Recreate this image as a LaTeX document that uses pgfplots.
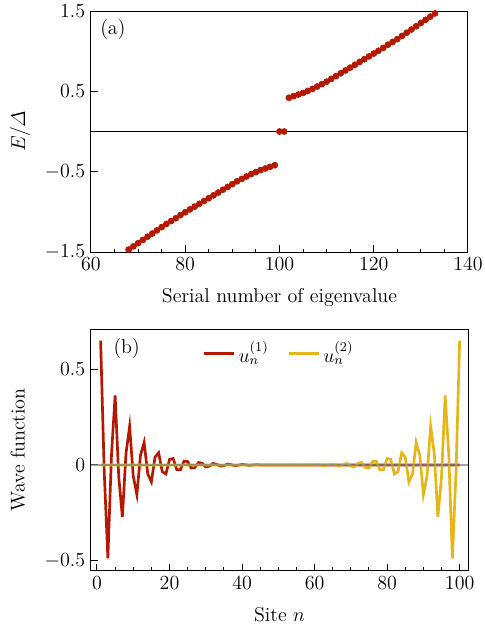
\documentclass[border=0pt]{standalone}
\usepackage{amsmath}
\usepackage{pgfplots}
\usepackage{pgfplotstable}
\pgfplotsset{compat=1.18}
\definecolor{cred}{RGB}{180,25,0}
\definecolor{cyel}{RGB}{230,182,25}

\pgfplotstableread{
n E
66 -1.55
67 -1.51
68 -1.47
69 -1.43
70 -1.39
71 -1.35
72 -1.31
73 -1.27
74 -1.23
75 -1.19
76 -1.15
77 -1.115
78 -1.08
79 -1.04
80 -1.005
81 -0.97
82 -0.935
83 -0.90
84 -0.865
85 -0.83
86 -0.795
87 -0.76
88 -0.725
89 -0.69
90 -0.655
91 -0.62
92 -0.59
93 -0.56
94 -0.53
95 -0.505
96 -0.48
97 -0.46
98 -0.44
99 -0.42
100 0
101 0
102 0.42
103 0.44
104 0.46
105 0.48
106 0.505
107 0.53
108 0.56
109 0.59
110 0.62
111 0.655
112 0.69
113 0.725
114 0.76
115 0.795
116 0.83
117 0.865
118 0.90
119 0.935
120 0.97
121 1.005
122 1.04
123 1.08
124 1.115
125 1.15
126 1.19
127 1.23
128 1.27
129 1.31
130 1.35
131 1.39
132 1.43
133 1.47
134 1.51
135 1.55
}\spectrum

\pgfplotstableread{
n u1 u2
1 0.650 0
2 -0.036 0
3 -0.488 0
4 0.054 0
5 0.364 0
6 -0.061 0
7 -0.272 0
8 0.061 0
9 0.202 0
10 -0.058 0
11 -0.155 0
12 0.052 0
13 0.118 0
14 -0.047 0
15 -0.088 0
16 0.041 0
17 0.064 0
18 -0.035 0
19 -0.047 0
20 0.029 0
21 0.034 0
22 -0.024 0
23 -0.025 0
24 0.020 0
25 0.018 0
26 -0.016 0
27 -0.013 0
28 0.013 0
29 0.009 0
30 -0.010 0
31 -0.006 0
32 0.008 0
33 0.004 0
34 -0.006 0
35 -0.003 0
36 0.005 0
37 0.002 0
38 -0.004 0
39 -0.001 0
40 0.003 0
41 0.001 0
42 -0.002 0
43 0 0
44 0.002 0
45 0 0
46 0 0
47 0 0
48 0 0
49 0 0
50 0 0
51 0 0
52 0 0
53 0 0
54 0 0
55 0 0
56 0 0
57 0 0.002
58 0 0
59 0 -0.002
60 0 0.001
61 0 0.003
62 0 -0.001
63 0 -0.004
64 0 0.002
65 0 0.005
66 0 -0.003
67 0 -0.006
68 0 0.004
69 0 0.008
70 0 -0.006
71 0 -0.010
72 0 0.009
73 0 0.013
74 0 -0.013
75 0 -0.016
76 0 0.018
77 0 0.020
78 0 -0.025
79 0 -0.024
80 0 0.034
81 0 0.029
82 0 -0.047
83 0 -0.035
84 0 0.064
85 0 0.041
86 0 -0.088
87 0 -0.047
88 0 0.118
89 0 0.052
90 0 -0.155
91 0 -0.058
92 0 0.202
93 0 0.061
94 0 -0.272
95 0 -0.061
96 0 0.364
97 0 0.054
98 0 -0.488
99 0 -0.036
100 0 0.650
}\wave

\pgfplotsset{
  common/.style={
    scale only axis,
    width=226.2pt,
    tick pos=left,
    tick align=inside,
    font=\fontsize{12}{14}\selectfont,
    tick label style={font=\fontsize{11.6}{14}\selectfont},
    axis line style={line width=0.6pt},
    every tick/.style={black, line width=0.6pt},
    major tick length=4pt,
    minor tick length=2pt,
    minor x tick num=3,
    clip=true,
  }
}

\begin{document}
\begin{tikzpicture}
\path[use as bounding box] (-54.6pt,-223.8pt) rectangle (235.8pt,151.2pt);

\begin{axis}[common,
  at={(0pt,0pt)}, anchor=south west,
  height=144.6pt,
  xmin=60, xmax=140, ymin=-1.5, ymax=1.5,
  xtick={60,80,100,120,140},
  ytick={-1.5,-0.5,0.5,1.5},
  xlabel={Serial number of eigenvalue},
  ylabel={$E/\varDelta$},
  xlabel style={at={(axis description cs:0.5,-0.187)}, anchor=center},
  ylabel style={at={(axis description cs:-0.188,0.5)}, anchor=center},
]
\addplot[black, line width=1pt] coordinates {(60,0) (140,0)};
\addplot[only marks, mark=*, mark size=1.8pt, color=cred, fill=cred] table[x=n, y=E] {\spectrum};
\node[anchor=west, inner sep=0pt, font=\fontsize{12}{14}\selectfont] at (rel axis cs:0.024,0.925) {(a)};
\end{axis}

\begin{axis}[common,
  at={(0pt,-191.2pt)}, anchor=south west,
  height=145pt,
  xmin=-1.65, xmax=102.3, ymin=-0.5525, ymax=0.711,
  xtick={0,20,40,60,80,100},
  ytick={-0.5,0,0.5},
  xlabel={Site $n$},
  ylabel={Wave function},
  xlabel style={at={(axis description cs:0.5,-0.183)}, anchor=center},
  ylabel style={at={(axis description cs:-0.194,0.5)}, anchor=center},
  legend style={draw=none, fill=none, at={(0.5,0.9)}, anchor=center,
    font=\fontsize{12}{14}\selectfont,
    /tikz/every even column/.append style={column sep=9pt}},
  legend columns=2,
  legend image code/.code={\draw[#1, line width=1.8pt] (0pt,0pt) -- (18pt,0pt);},
]
\addplot[cred, line width=1.6pt] table[x=n, y=u1] {\wave};
\addlegendentry{$u_n^{(1)}$}
\addplot[cyel, line width=1.6pt] table[x=n, y=u2] {\wave};
\addlegendentry{$u_n^{(2)}$}
\addplot[gray, opacity=0.7, line width=1pt, forget plot] coordinates {(-1.65,0) (102.3,0)};
\node[anchor=west, inner sep=0pt, font=\fontsize{12}{14}\selectfont] at (rel axis cs:0.059,0.921) {(b)};
\end{axis}
\end{tikzpicture}
\end{document}
